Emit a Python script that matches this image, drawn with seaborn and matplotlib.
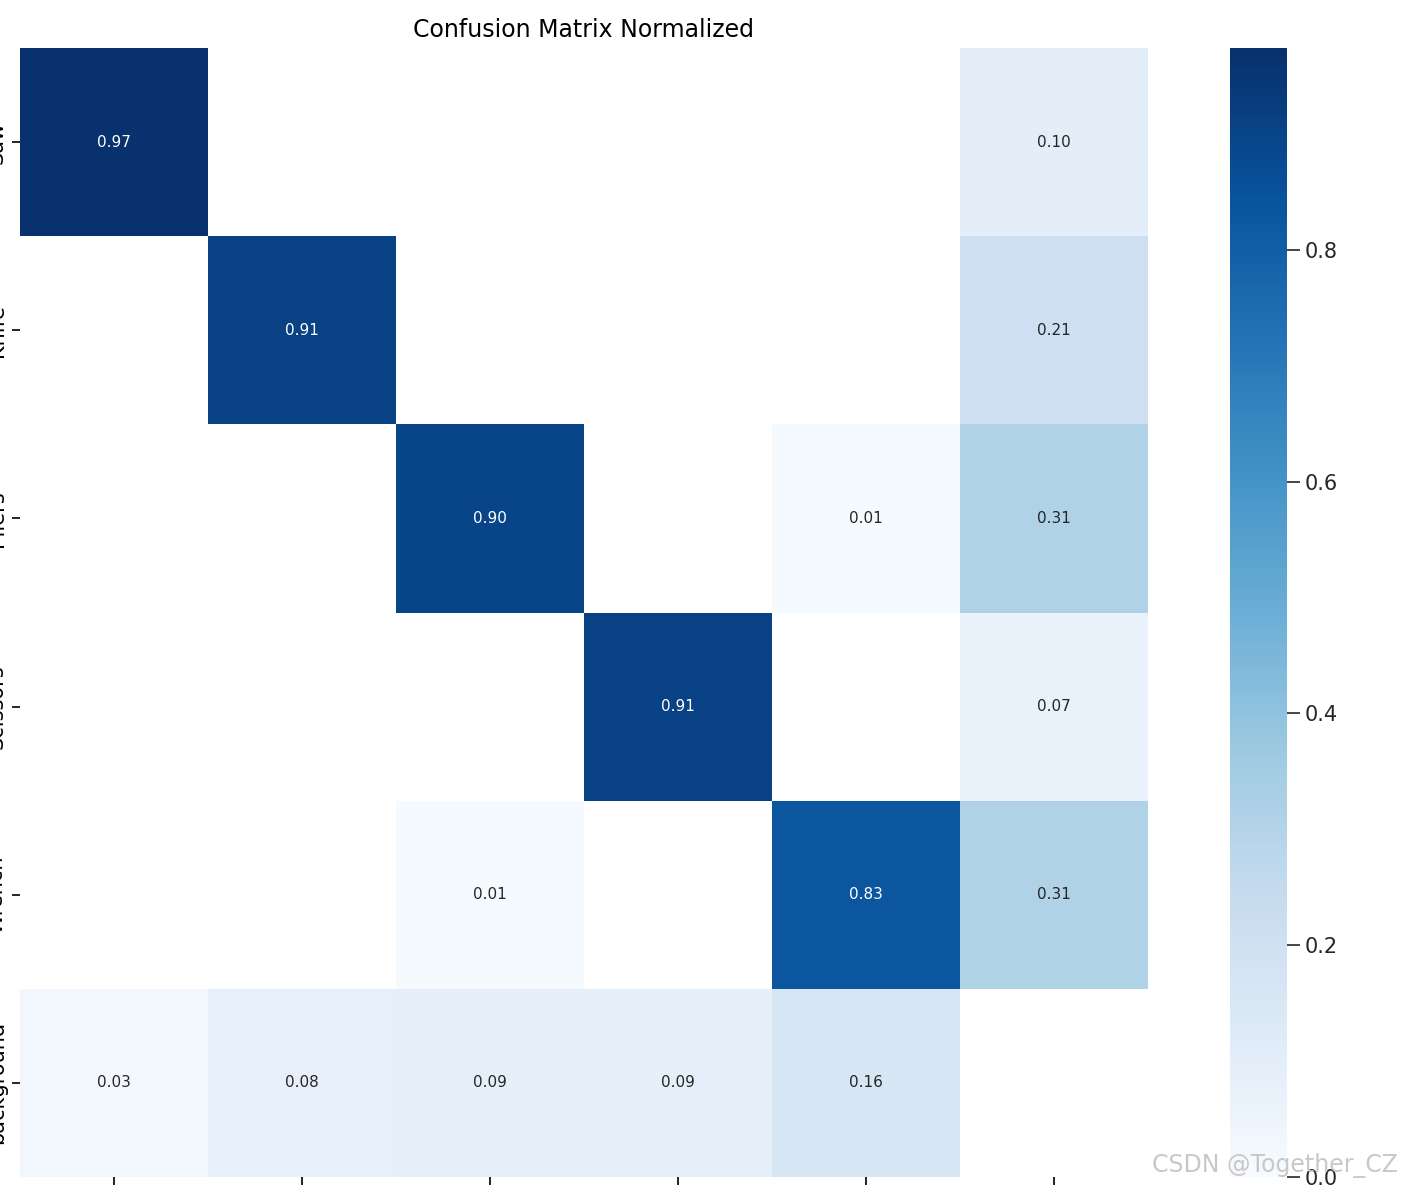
import numpy as np
import pandas as pd
import matplotlib
matplotlib.use('Agg')
import matplotlib.pyplot as plt
import seaborn as sns

# predicted (rows) vs true (columns), normalized
row_names = ['Saw', 'Knife', 'Pliers', 'Scissors', 'Wrench', 'background']
col_names = ['Saw', 'Knife', 'Pliers', 'Scissors', 'Wrench', 'background']
saw = [0.97, np.nan, np.nan, np.nan, np.nan, 0.10]
knife = [np.nan, 0.91, np.nan, np.nan, np.nan, 0.21]
pliers = [np.nan, np.nan, 0.90, np.nan, 0.01, 0.31]
scissors = [np.nan, np.nan, np.nan, 0.91, np.nan, 0.07]
wrench = [np.nan, np.nan, 0.01, np.nan, 0.83, 0.31]
background = [0.03, 0.08, 0.09, 0.09, 0.16, np.nan]

matrix = pd.DataFrame([saw, knife, pliers, scissors, wrench, background],
                      index=row_names, columns=col_names)

sns.set_theme(style='ticks', font_scale=1.0)
plt.rcParams['font.family'] = ['DejaVu Sans']

W, H = 1402, 1190
fig = plt.figure(figsize=(W / 100, H / 100), dpi=100)
ax = fig.add_axes([20 / W, 13 / H, 1128 / W, 1129 / H])
cax = fig.add_axes([1230 / W, 13 / H, 57 / W, 1129 / H])

sns.heatmap(matrix, ax=ax, cbar_ax=cax, annot=True, fmt='.2f', cmap='Blues',
            vmin=0.0, vmax=0.974, annot_kws={'size': 11})

ax.set_title('Confusion Matrix Normalized', fontsize=17, pad=8, color='black')
ax.set_xlabel('')
ax.set_ylabel('')
ax.tick_params(axis='both', length=6, width=1.2, labelsize=15,
               colors='black')
plt.setp(ax.get_yticklabels(), rotation=90, va='center')
for s in ax.spines.values():
    s.set_visible(False)

cax.tick_params(labelsize=15, length=9, width=1.2)
cax.set_yticks([0.0, 0.2, 0.4, 0.6, 0.8])
cax.set_yticklabels(['0.0', '0.2', '0.4', '0.6', '0.8'])

# watermark
fig.text(1398 / W, 1 - 1165 / H, 'CSDN @Together_CZ', ha='right', va='center',
         fontsize=17, color='#c8c8c8', family='Liberation Sans Narrow')

fig.savefig('out.png', dpi=100)
